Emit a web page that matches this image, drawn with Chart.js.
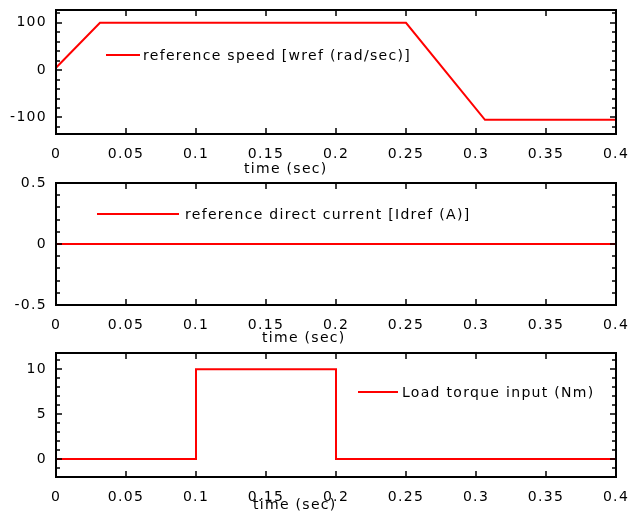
<!DOCTYPE html>
<html>
<head>
<meta charset="utf-8">
<script src="https://cdn.jsdelivr.net/npm/chart.js@4.4.1/dist/chart.umd.min.js"></script>
<style>
  html, body { margin: 0; padding: 0; background: #fff; }
  #wrap { position: relative; width: 630px; height: 525px; }
  .c { position: absolute; left: 0; width: 630px; }
</style>
</head>
<body>
<div id="wrap">
  <div class="c" style="top:0;height:175px"><canvas id="c1"></canvas></div>
  <div class="c" style="top:175px;height:170px"><canvas id="c2"></canvas></div>
  <div class="c" style="top:345px;height:180px"><canvas id="c3"></canvas></div>
</div>
<script>
// ---- data ----
const timeSpeed   = [0, 0.0314, 0.25, 0.3064, 0.4];
const speedRef    = [5, 100, 100, -105, -105];
const timeCurrent = [0, 0.4];
const idRef       = [0, 0];
const timeTorque  = [0, 0.1, 0.1, 0.2, 0.2, 0.4];
const torqueLoad  = [0, 0, 10, 10, 0, 0];

const xTicks      = [0, 0.05, 0.1, 0.15, 0.2, 0.25, 0.3, 0.35, 0.4];
const xTickLabels = ['0', '0.05', '0.1', '0.15', '0.2', '0.25', '0.3', '0.35', '0.4'];
const y1Ticks = [-100, 0, 100];   const y1Labels = ['-100', '0', '100'];
const y2Ticks = [-0.5, 0, 0.5];   const y2Labels = ['-0.5', '0', '0.5'];
const y3Ticks = [0, 5, 10];       const y3Labels = ['0', '5', '10'];
const y1Minor = [-120,-100,-80,-60,-40,-20,0,20,40,60,80,100,120];
const y2Minor = [-0.5,-0.4,-0.3,-0.2,-0.1,0,0.1,0.2,0.3,0.4,0.5];
const y3Minor = [-2,-1,0,1,2,3,4,5,6,7,8,9,10,11];
const xLabelText = 'time (sec)';
const legend1 = 'reference speed [wref (rad/sec)]';
const legend2 = 'reference direct current [Idref (A)]';
const legend3 = 'Load torque input (Nm)';

const FONT = 'DejaVu Sans';
const LS = '1.3px';

function pts(xs, ys) { return xs.map((x, i) => ({ x: x, y: ys[i] })); }

function makeChart(id, cfg) {
  const deco = {
    id: 'deco',
    beforeDraw(chart) { chart.ctx.letterSpacing = LS; },
    afterDraw(chart) {
      const ctx = chart.ctx;
      const a = chart.chartArea;
      const xs = chart.scales.x, ys = chart.scales.y;
      const L = Math.round(a.left), R = Math.round(a.right);
      const T = Math.round(a.top), B = Math.round(a.bottom);
      ctx.save();
      ctx.letterSpacing = LS;
      ctx.strokeStyle = '#000000';
      ctx.lineWidth = 2;
      ctx.beginPath();
      ctx.rect(L, T, R - L, B - T);
      ctx.stroke();
      ctx.lineWidth = 1.5;
      ctx.beginPath();
      // x major ticks, top and bottom, inward
      xTicks.forEach(v => {
        const px = Math.round(xs.getPixelForValue(v));
        ctx.moveTo(px, B); ctx.lineTo(px, B - 6);
        ctx.moveTo(px, T); ctx.lineTo(px, T + 6);
      });
      // y minor / major ticks, left and right
      cfg.minor.forEach(v => {
        const py = Math.round(ys.getPixelForValue(v));
        const len = cfg.major.indexOf(v) >= 0 ? 6 : 4;
        ctx.moveTo(L, py); ctx.lineTo(L + len, py);
        ctx.moveTo(R, py); ctx.lineTo(R - len, py);
      });
      ctx.stroke();
      // legend
      const ds = chart.data.datasets[0];
      ctx.strokeStyle = ds.borderColor;
      ctx.lineWidth = 2;
      ctx.beginPath();
      ctx.moveTo(cfg.leg.x0, cfg.leg.y); ctx.lineTo(cfg.leg.x1, cfg.leg.y);
      ctx.stroke();
      ctx.fillStyle = '#000';
      ctx.font = '14px "' + FONT + '"';
      ctx.textBaseline = 'middle';
      ctx.textAlign = 'left';
      ctx.fillText(ds.label, cfg.leg.tx, cfg.leg.y + 1);
      // x axis label
      ctx.fillText(xLabelText, cfg.xl.x, cfg.xl.y);
      ctx.restore();
    }
  };
  return new Chart(document.getElementById(id), {
    type: 'line',
    data: {
      datasets: [{
        label: cfg.label,
        data: cfg.data,
        borderColor: '#ff0000',
        borderWidth: 2,
        pointRadius: 0,
        tension: 0,
        fill: false
      }]
    },
    options: {
      responsive: true,
      maintainAspectRatio: false,
      animation: false,
      events: [],
      layout: { padding: { left: 0, right: 14, top: cfg.top, bottom: 0 } },
      plugins: { legend: { display: false }, tooltip: { enabled: false } },
      scales: {
        x: {
          type: 'linear', min: 0, max: 0.4,
          grid: { display: false, drawTicks: false }, border: { display: false },
          afterBuildTicks(s) { s.ticks = xTicks.map(v => ({ value: v })); },
          afterFit(s) { s.height = cfg.xh; s.paddingLeft = 0; s.paddingRight = 0; },
          ticks: {
            autoSkip: false, maxRotation: 0, minRotation: 0, padding: 12,
            color: '#000', font: { family: FONT, size: 14 },
            callback: (v, i) => xTickLabels[xTicks.indexOf(v)] ?? ''
          }
        },
        y: {
          type: 'linear', min: cfg.ymin, max: cfg.ymax,
          grid: { display: false, drawTicks: false }, border: { display: false },
          afterBuildTicks(s) { s.ticks = cfg.major.map(v => ({ value: v })); },
          afterFit(s) { s.width = 56; s.paddingTop = 0; s.paddingBottom = 0; },
          ticks: {
            padding: 9, color: '#000', font: { family: FONT, size: 14 },
            callback: (v) => cfg.majorLabels[cfg.major.indexOf(v)] ?? ''
          }
        }
      }
    },
    plugins: [deco]
  });
}

makeChart('c1', {
  label: legend1, data: pts(timeSpeed, speedRef),
  ymin: -135, ymax: 127, major: y1Ticks, majorLabels: y1Labels, minor: y1Minor,
  top: 10, xh: 41,
  leg: { x0: 106, x1: 140, y: 55, tx: 143 },
  xl: { x: 244, y: 169 }
});
makeChart('c2', {
  label: legend2, data: pts(timeCurrent, idRef),
  ymin: -0.5, ymax: 0.5, major: y2Ticks, majorLabels: y2Labels, minor: y2Minor,
  top: 8, xh: 40,
  leg: { x0: 97, x1: 179, y: 39, tx: 185 },
  xl: { x: 262, y: 163 }
});
makeChart('c3', {
  label: legend3, data: pts(timeTorque, torqueLoad),
  ymin: -2, ymax: 11.8, major: y3Ticks, majorLabels: y3Labels, minor: y3Minor,
  top: 8, xh: 48,
  leg: { x0: 358, x1: 398, y: 47, tx: 402 },
  xl: { x: 253, y: 160 }
});
</script>
</body>
</html>
